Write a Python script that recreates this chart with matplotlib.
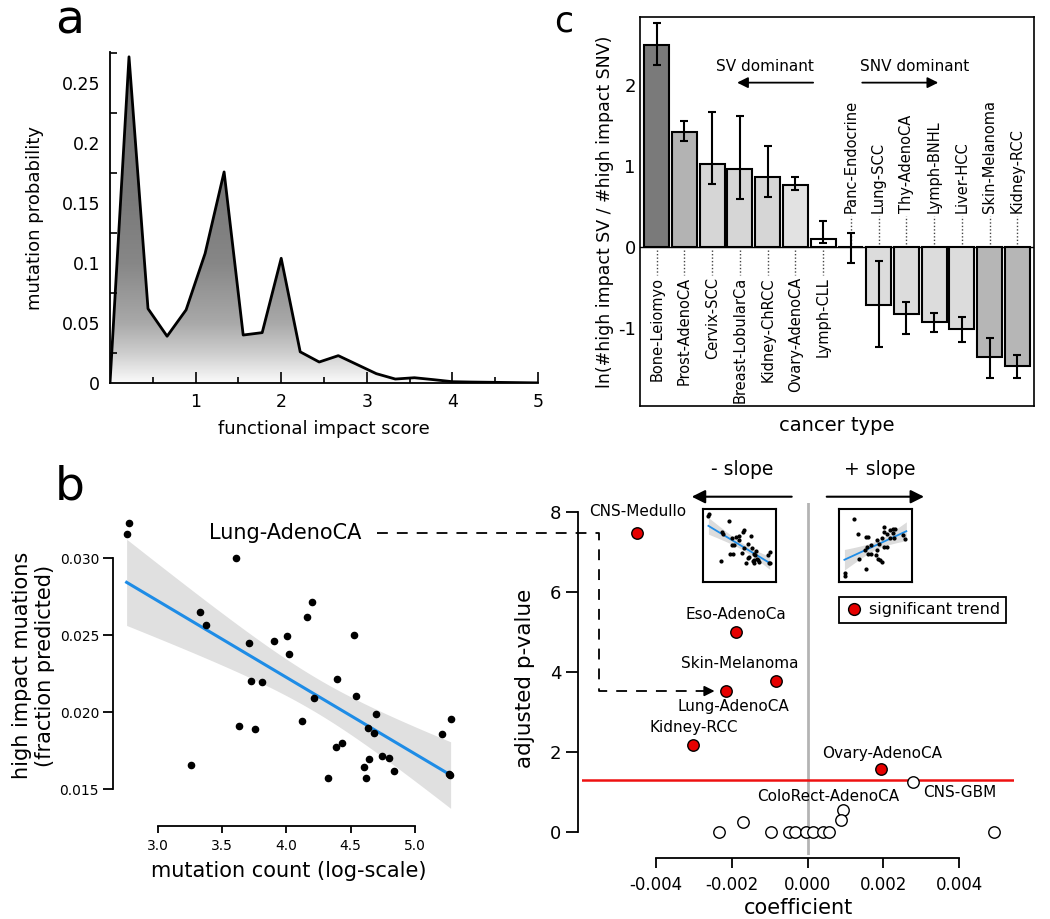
import numpy as np
import matplotlib
matplotlib.use('Agg')
import matplotlib.pyplot as plt
from matplotlib.colors import LinearSegmentedColormap
from matplotlib.lines import Line2D

plt.rcParams['font.family'] = ['DejaVu Sans']

###### PANEL A : functional impact score distribution ######
score_x = [0.0, 0.222, 0.444, 0.667, 0.889, 1.111, 1.333, 1.556, 1.778, 2.0, 2.222, 2.444,
           2.667, 2.889, 3.111, 3.333, 3.556, 3.778, 4.0, 4.222, 4.444, 4.667, 4.889, 5.0]
mut_prob = [0.0, 0.272, 0.062, 0.039, 0.061, 0.108, 0.176, 0.040, 0.042, 0.104, 0.026, 0.0175,
            0.0228, 0.0153, 0.0078, 0.0033, 0.0044, 0.0028, 0.0011, 0.0008, 0.0006, 0.0004,
            0.0002, 0.0001]

###### PANEL C : SV vs SNV ######
cancer_types = ['Bone-Leiomyo', 'Prost-AdenoCA', 'Cervix-SCC', 'Breast-LobularCa', 'Kidney-ChRCC',
                'Ovary-AdenoCA', 'Lymph-CLL', 'Panc-Endocrine', 'Lung-SCC', 'Thy-AdenoCA',
                'Lymph-BNHL', 'Liver-HCC', 'Skin-Melanoma', 'Kidney-RCC']
log_ratio = [2.50, 1.42, 1.03, 0.96, 0.87, 0.77, 0.106, 0.0, -0.716, -0.82, -0.92, -1.01, -1.36, -1.47]
err_low = [2.25, 1.31, 0.78, 0.60, 0.62, 0.71, 0.05, -0.20, -1.23, -1.07, -1.05, -1.17, -1.61, -1.61]
err_high = [2.76, 1.56, 1.67, 1.62, 1.25, 0.86, 0.32, 0.17, -0.165, -0.68, -0.81, -0.86, -1.12, -1.33]
bar_colors = ['#7a7a7a', '#b3b3b3', '#d6d6d6', '#d6d6d6', '#d6d6d6', '#e2e2e2', '#ffffff',
              '#ffffff', '#dcdcdc', '#dcdcdc', '#dcdcdc', '#dcdcdc', '#b6b6b6', '#b6b6b6']
n_sv_dominant = 7

###### PANEL B left : Lung-AdenoCA scatter ######
mut_count = [2.774, 2.756, 3.607, 3.327, 3.371, 3.708, 3.900, 4.004, 4.017, 4.201, 4.160, 4.523,
             3.724, 3.807, 4.396, 4.211, 4.538, 3.633, 3.752, 4.121, 4.699, 4.637, 4.681, 4.383,
             4.429, 3.257, 4.323, 4.601, 4.619, 4.645, 4.746, 4.800, 4.834, 5.213, 5.278, 5.262,
             5.276]
hi_frac = [0.03225, 0.03158, 0.02998, 0.02647, 0.02567, 0.02446, 0.02459, 0.02494, 0.02377,
           0.02716, 0.02619, 0.02502, 0.02199, 0.02193, 0.02216, 0.02091, 0.02102, 0.01909,
           0.01892, 0.01939, 0.01985, 0.01898, 0.01861, 0.01771, 0.01799, 0.01656, 0.01574,
           0.01641, 0.01574, 0.01695, 0.01714, 0.01703, 0.01619, 0.01855, 0.01955, 0.01597,
           0.01590]

# + slope thumbnail (normalised units)
pos_u = [0.20, 0.26, 0.36, 0.40, 0.62, 0.69, 0.73, 0.76, 0.74, 0.65, 0.61, 0.58, 0.70, 0.75,
         0.88, 0.90, 0.38, 0.44, 0.52, 0.55, 0.52, 0.61, 0.66, 0.35, 0.39, 0.43, 0.27, 0.51,
         0.53, 0.56, 0.58, 0.36, 0.08, 0.08]
pos_v = [0.865, 0.66, 0.62, 0.61, 0.75, 0.71, 0.72, 0.72, 0.67, 0.66, 0.68, 0.60, 0.60, 0.60,
         0.64, 0.59, 0.48, 0.51, 0.57, 0.52, 0.44, 0.48, 0.48, 0.44, 0.39, 0.39, 0.31, 0.37,
         0.32, 0.30, 0.28, 0.18, 0.13, 0.09]

###### PANEL B right : volcano ######
sig_names = ['CNS-Medullo', 'Eso-AdenoCa', 'Skin-Melanoma', 'Lung-AdenoCA', 'Kidney-RCC', 'Ovary-AdenoCA']
sig_coef = [-0.004485, -0.001884, -0.000822, -0.002148, -0.003017, 0.001945]
sig_pval = [7.49, 5.01, 3.77, 3.53, 2.18, 1.59]
sig_label_xy = [(-0.00447, 8.01), (-0.001884, 5.45), (-0.00178, 4.22), (-0.001955, 3.14),
                (-0.00299, 2.62), (0.001955, 1.975)]

ns_coef = [0.002789, 0.000927, 0.000883, -0.001708, -0.002332, -0.00097, -0.00048, -0.00033,
           -0.00005, 0.00015, 0.00042, 0.00057, 0.004906]
ns_pval = [1.265, 0.557, 0.307, 0.266, 0.0, 0.0, 0.0, 0.0, 0.0, 0.0, 0.0, 0.0, 0.0]
ns_labels = {'CNS-GBM': (0.00400, 0.99), 'ColoRect-AdenoCA': (0.000549, 0.89)}
sig_cutoff = -np.log10(0.05)

RED = '#e60000'
BLUE = '#1e8ce6'


def fit_band(x, y, grid):
    x = np.asarray(x); y = np.asarray(y)
    b, a = np.polyfit(x, y, 1)
    n = len(x)
    s = np.sqrt(np.sum((y - (a + b * x)) ** 2) / (n - 2))
    sxx = np.sum((x - x.mean()) ** 2)
    se = s * np.sqrt(1.0 / n + (grid - x.mean()) ** 2 / sxx)
    fit = a + b * grid
    return fit, fit - 2.03 * se, fit + 2.03 * se


fig = plt.figure(figsize=(10.5, 9.19), dpi=100)

# ---------------- a ----------------
ax_a = fig.add_axes([0.10476, 0.58324, 0.40762, 0.36017])
ax_a.set_xlim(0, 5)
ax_a.set_ylim(0, 0.276)
poly = ax_a.fill_between(score_x, mut_prob, 0, color='none', lw=0)
cmap = LinearSegmentedColormap.from_list('g', [(0, '#fafafa'), (0.09, '#cdcdcd'), (0.18, '#a9a9a9'),
                                              (0.36, '#878787'), (0.55, '#7a7a7a'), (1, '#686868')])
grad = np.linspace(0, 1, 256).reshape(-1, 1)
im = ax_a.imshow(grad, extent=[0, 5, 0, 0.276], origin='lower', aspect='auto', cmap=cmap, zorder=1)
im.set_clip_path(poly.get_paths()[0], transform=ax_a.transData)
ax_a.plot(score_x, mut_prob, color='k', lw=2, zorder=3)
for s in ['top', 'right']:
    ax_a.spines[s].set_visible(False)
for s in ['left', 'bottom']:
    ax_a.spines[s].set_linewidth(1.3)
ax_a.set_xticks([1, 2, 3, 4, 5])
ax_a.set_xticklabels(['1', '2', '3', '4', '5'])
ax_a.set_xticks(np.arange(0.5, 5, 1.0), minor=True)
ax_a.set_yticks([0, 0.05, 0.1, 0.15, 0.2, 0.25])
ax_a.set_yticklabels(['0', '0.05', '0.1', '0.15', '0.2', '0.25'])
ax_a.set_yticks(np.arange(0.025, 0.28, 0.05), minor=True)
ax_a.tick_params(axis='x', which='major', direction='in', length=8, width=1.2, labelsize=12.5, pad=7)
ax_a.tick_params(axis='x', which='minor', direction='in', length=4, width=1.2)
ax_a.tick_params(axis='y', which='major', length=0, labelsize=12.5, pad=7)
ax_a.tick_params(axis='y', which='minor', direction='in', length=5, width=1.2)
ax_a.set_xlabel('functional impact score', fontsize=13, labelpad=7)
ax_a.set_ylabel('mutation probability', fontsize=13, labelpad=13)

# ---------------- c ----------------
ax_c = fig.add_axes([0.60952, 0.55822, 0.37524, 0.42329])
pos = np.arange(len(cancer_types))
vals = np.array(log_ratio)
yerr = [vals - np.array(err_low), np.array(err_high) - vals]
ax_c.axhline(0, color='k', lw=1, zorder=1)
ax_c.bar(pos, vals, width=0.9, color=bar_colors, edgecolor='k', linewidth=1.5, zorder=2)
ax_c.errorbar(pos, vals, yerr=yerr, fmt='none', ecolor='k', elinewidth=1.5, capsize=3,
              capthick=1.5, zorder=3)
for i, name in enumerate(cancer_types):
    if i < n_sv_dominant:
        ax_c.plot([i, i], [-0.04, -0.34], color='#444444', lw=1, ls=(0, (1, 1.5)), zorder=1)
        ax_c.text(i, -0.37, name, rotation=90, ha='center', va='top', fontsize=10.5)
    else:
        ax_c.plot([i, i], [0.04, 0.39], color='#444444', lw=1, ls=(0, (1, 1.5)), zorder=1)
        ax_c.text(i, 0.42, name, rotation=90, ha='center', va='bottom', fontsize=10.5)
ax_c.set_xlim(-0.6, 13.6)
ax_c.set_ylim(-1.96, 2.84)
ax_c.set_xticks([])
ax_c.set_yticks([-1, 0, 1, 2])
ax_c.set_yticklabels(['-1', '0', '1', '2'])
ax_c.tick_params(axis='y', length=0, labelsize=13, pad=3)
for s in ax_c.spines.values():
    s.set_linewidth(1.2)
ax_c.set_xlabel('cancer type', fontsize=14, labelpad=7)
ax_c.set_ylabel('ln(#high impact SV / #high impact SNV)', fontsize=12.5, labelpad=3)
ax_c.text(3.91, 2.23, 'SV dominant', ha='center', va='center', fontsize=11)
ax_c.text(9.3, 2.23, 'SNV dominant', ha='center', va='center', fontsize=11)
ax_c.annotate('', xy=(2.9, 2.03), xytext=(5.64, 2.03),
              arrowprops=dict(arrowstyle='-|>', color='k', lw=1.3, mutation_scale=16, shrinkA=0, shrinkB=0))
ax_c.annotate('', xy=(10.15, 2.03), xytext=(7.41, 2.03),
              arrowprops=dict(arrowstyle='-|>', color='k', lw=1.3, mutation_scale=16, shrinkA=0, shrinkB=0))

# ---------------- b (left) ----------------
ax_b = fig.add_axes([0.11619, 0.10794, 0.3181, 0.33515])
mx = np.array(mut_count); my = np.array(hi_frac)
grid = np.linspace(mx.min(), mx.max(), 100)
fit, lo, hi = fit_band(mx, my, grid)
ax_b.fill_between(grid, lo, hi, color='#e0e0e0', lw=0, zorder=1)
ax_b.plot(grid, fit, color=BLUE, lw=2.2, zorder=2)
ax_b.scatter(mx, my, s=20, color='k', zorder=3, clip_on=False)
ax_b.set_xlim(2.72, 5.32)
ax_b.set_ylim(0.0130, 0.0330)
for s in ['top', 'right']:
    ax_b.spines[s].set_visible(False)
ax_b.spines['left'].set_position(('outward', 6.5))
ax_b.spines['bottom'].set_position(('outward', 4.5))
ax_b.spines['left'].set_bounds(0.015, 0.030)
ax_b.spines['bottom'].set_bounds(3.0, 5.0)
for s in ['left', 'bottom']:
    ax_b.spines[s].set_linewidth(1.3)
ax_b.set_yticks([0.015, 0.020, 0.025, 0.030])
ax_b.set_yticklabels(['0.015', '0.020', '0.025', '0.030'])
ax_b.set_xticks([3.0, 3.5, 4.0, 4.5, 5.0])
ax_b.set_xticklabels(['3.0', '3.5', '4.0', '4.5', '5.0'])
ax_b.tick_params(axis='y', length=7, width=1.3, labelsize=10, pad=3)
ax_b.tick_params(axis='x', length=5, width=1.3, labelsize=10, pad=4)
ax_b.set_xlabel('mutation count (log-scale)', fontsize=15, labelpad=6)
ax_b.set_ylabel('high impact muations\n(fraction predicted)', fontsize=15, labelpad=3)

# ---------------- b (right) ----------------
ax_d = fig.add_axes([0.55429, 0.06964, 0.41143, 0.38335])
ax_d.set_xlim(-0.005942, 0.005441)
ax_d.set_ylim(-0.57, 8.24)
ax_d.axvline(0, color='#b4b4b4', lw=2, zorder=1)
ax_d.axhline(sig_cutoff, color='#ee1111', lw=1.8, zorder=1)
ax_d.scatter(ns_coef, ns_pval, s=68, facecolor='white', edgecolor='k', lw=1, zorder=3, clip_on=False)
ax_d.scatter(sig_coef, sig_pval, s=68, facecolor=RED, edgecolor='k', lw=1, zorder=4, clip_on=False)
for name, (tx, ty) in zip(sig_names, sig_label_xy):
    ax_d.text(tx, ty, name, ha='center', va='center', fontsize=11, zorder=5)
for name, (tx, ty) in ns_labels.items():
    ax_d.text(tx, ty, name, ha='center', va='center', fontsize=11, zorder=5)
for s in ['top', 'right']:
    ax_d.spines[s].set_visible(False)
ax_d.spines['left'].set_position(('outward', 2.7))
ax_d.spines['bottom'].set_position(('outward', 2))
ax_d.spines['left'].set_bounds(0, 8)
ax_d.spines['bottom'].set_bounds(-0.004, 0.004)
for s in ['left', 'bottom']:
    ax_d.spines[s].set_linewidth(1.3)
ax_d.set_yticks([0, 2, 4, 6, 8])
ax_d.set_xticks([-0.004, -0.002, 0.0, 0.002, 0.004])
ax_d.set_xticklabels(['-0.004', '-0.002', '0.000', '0.002', '0.004'])
ax_d.tick_params(axis='y', length=9, width=1.3, labelsize=13, pad=3)
ax_d.tick_params(axis='x', length=7, width=1.3, labelsize=12, pad=6)
ax_d.set_xlabel('coefficient', fontsize=15, labelpad=3)
ax_d.set_ylabel('adjusted p-value', fontsize=15.5, labelpad=11)

# slope arrows
ax_d.text(-0.00171, 9.06, '- slope', ha='center', va='center', fontsize=13.5)
ax_d.text(0.00191, 9.06, '+ slope', ha='center', va='center', fontsize=13.5)
ax_d.annotate('', xy=(-0.00305, 8.39), xytext=(-0.000416, 8.39), annotation_clip=False,
              arrowprops=dict(arrowstyle='-|>', color='k', lw=1.5, mutation_scale=20, shrinkA=0, shrinkB=0))
ax_d.annotate('', xy=(0.00307, 8.39), xytext=(0.000506, 8.39), annotation_clip=False,
              arrowprops=dict(arrowstyle='-|>', color='k', lw=1.5, mutation_scale=20, shrinkA=0, shrinkB=0))

# thumbnails
ins_neg = ax_d.inset_axes([-0.00276, 6.25, 0.00193, 1.84], transform=ax_d.transData)
ins_neg.fill_between(grid, lo, hi, color='#dcdcdc', lw=0)
ins_neg.plot(grid, fit, color=BLUE, lw=1.3)
ins_neg.scatter(mx, my, s=4, color='k', zorder=3)
ins_neg.set_xlim(2.524, 5.537)
ins_neg.set_ylim(0.0094, 0.0342)

ins_pos = ax_d.inset_axes([0.000838, 6.25, 0.00192, 1.84], transform=ax_d.transData)
pu = np.array(pos_u); pv = np.array(pos_v)
pgrid = np.linspace(0.07, 0.92, 50)
pfit, plo, phi = fit_band(pu, pv, pgrid)
ins_pos.fill_between(pgrid, plo, phi, color='#dcdcdc', lw=0)
ins_pos.plot(pgrid, pfit, color=BLUE, lw=1.3)
ins_pos.scatter(pu, pv, s=4, color='k', zorder=3)
ins_pos.set_xlim(0, 1)
ins_pos.set_ylim(0, 1)
for ins in [ins_neg, ins_pos]:
    ins.set_xticks([]); ins.set_yticks([])
    for s in ins.spines.values():
        s.set_linewidth(1.5)

# legend
handle = Line2D([], [], marker='o', ls='none', markersize=8.5, markerfacecolor=RED, markeredgecolor='k')
leg = ax_d.legend([handle], ['significant trend'], loc='upper left', bbox_to_anchor=(0.5956, 0.733),
                  borderaxespad=0, fancybox=False, edgecolor='k', fontsize=11.5, handletextpad=0.3,
                  handlelength=1.2, borderpad=0.35, framealpha=1)
leg.get_frame().set_linewidth(1.3)

# dashed pointer from the left scatter to its point in the volcano
li = sig_names.index('Lung-AdenoCA')
lung_x, lung_y = sig_coef[li], sig_pval[li]
start_x, corner_x, top_y = -0.01134, -0.005486, 7.48
end_x = lung_x - 0.0003
ax_d.text(-0.01377, top_y, 'Lung-AdenoCA', ha='center', va='center', fontsize=15)
ax_d.plot([start_x, corner_x, corner_x, end_x - 0.0002], [top_y, top_y, lung_y, lung_y],
          color='k', lw=1.3, dashes=(6, 5), clip_on=False)
ax_d.annotate('', xy=(end_x, lung_y), xytext=(end_x - 0.0002, lung_y), annotation_clip=False,
              arrowprops=dict(arrowstyle='-|>', color='k', lw=1.3, mutation_scale=15, shrinkA=0, shrinkB=0))

# panel letters
fig.text(55 / 1050, 1 - 33 / 919, 'a', fontsize=34, ha='left', va='baseline')
fig.text(55 / 1050, 1 - 500 / 919, 'b', fontsize=34, ha='left', va='baseline')
fig.text(554 / 1050, 1 - 32 / 919, 'c', fontsize=25, ha='left', va='baseline')

fig.savefig('out.png', dpi=100)
